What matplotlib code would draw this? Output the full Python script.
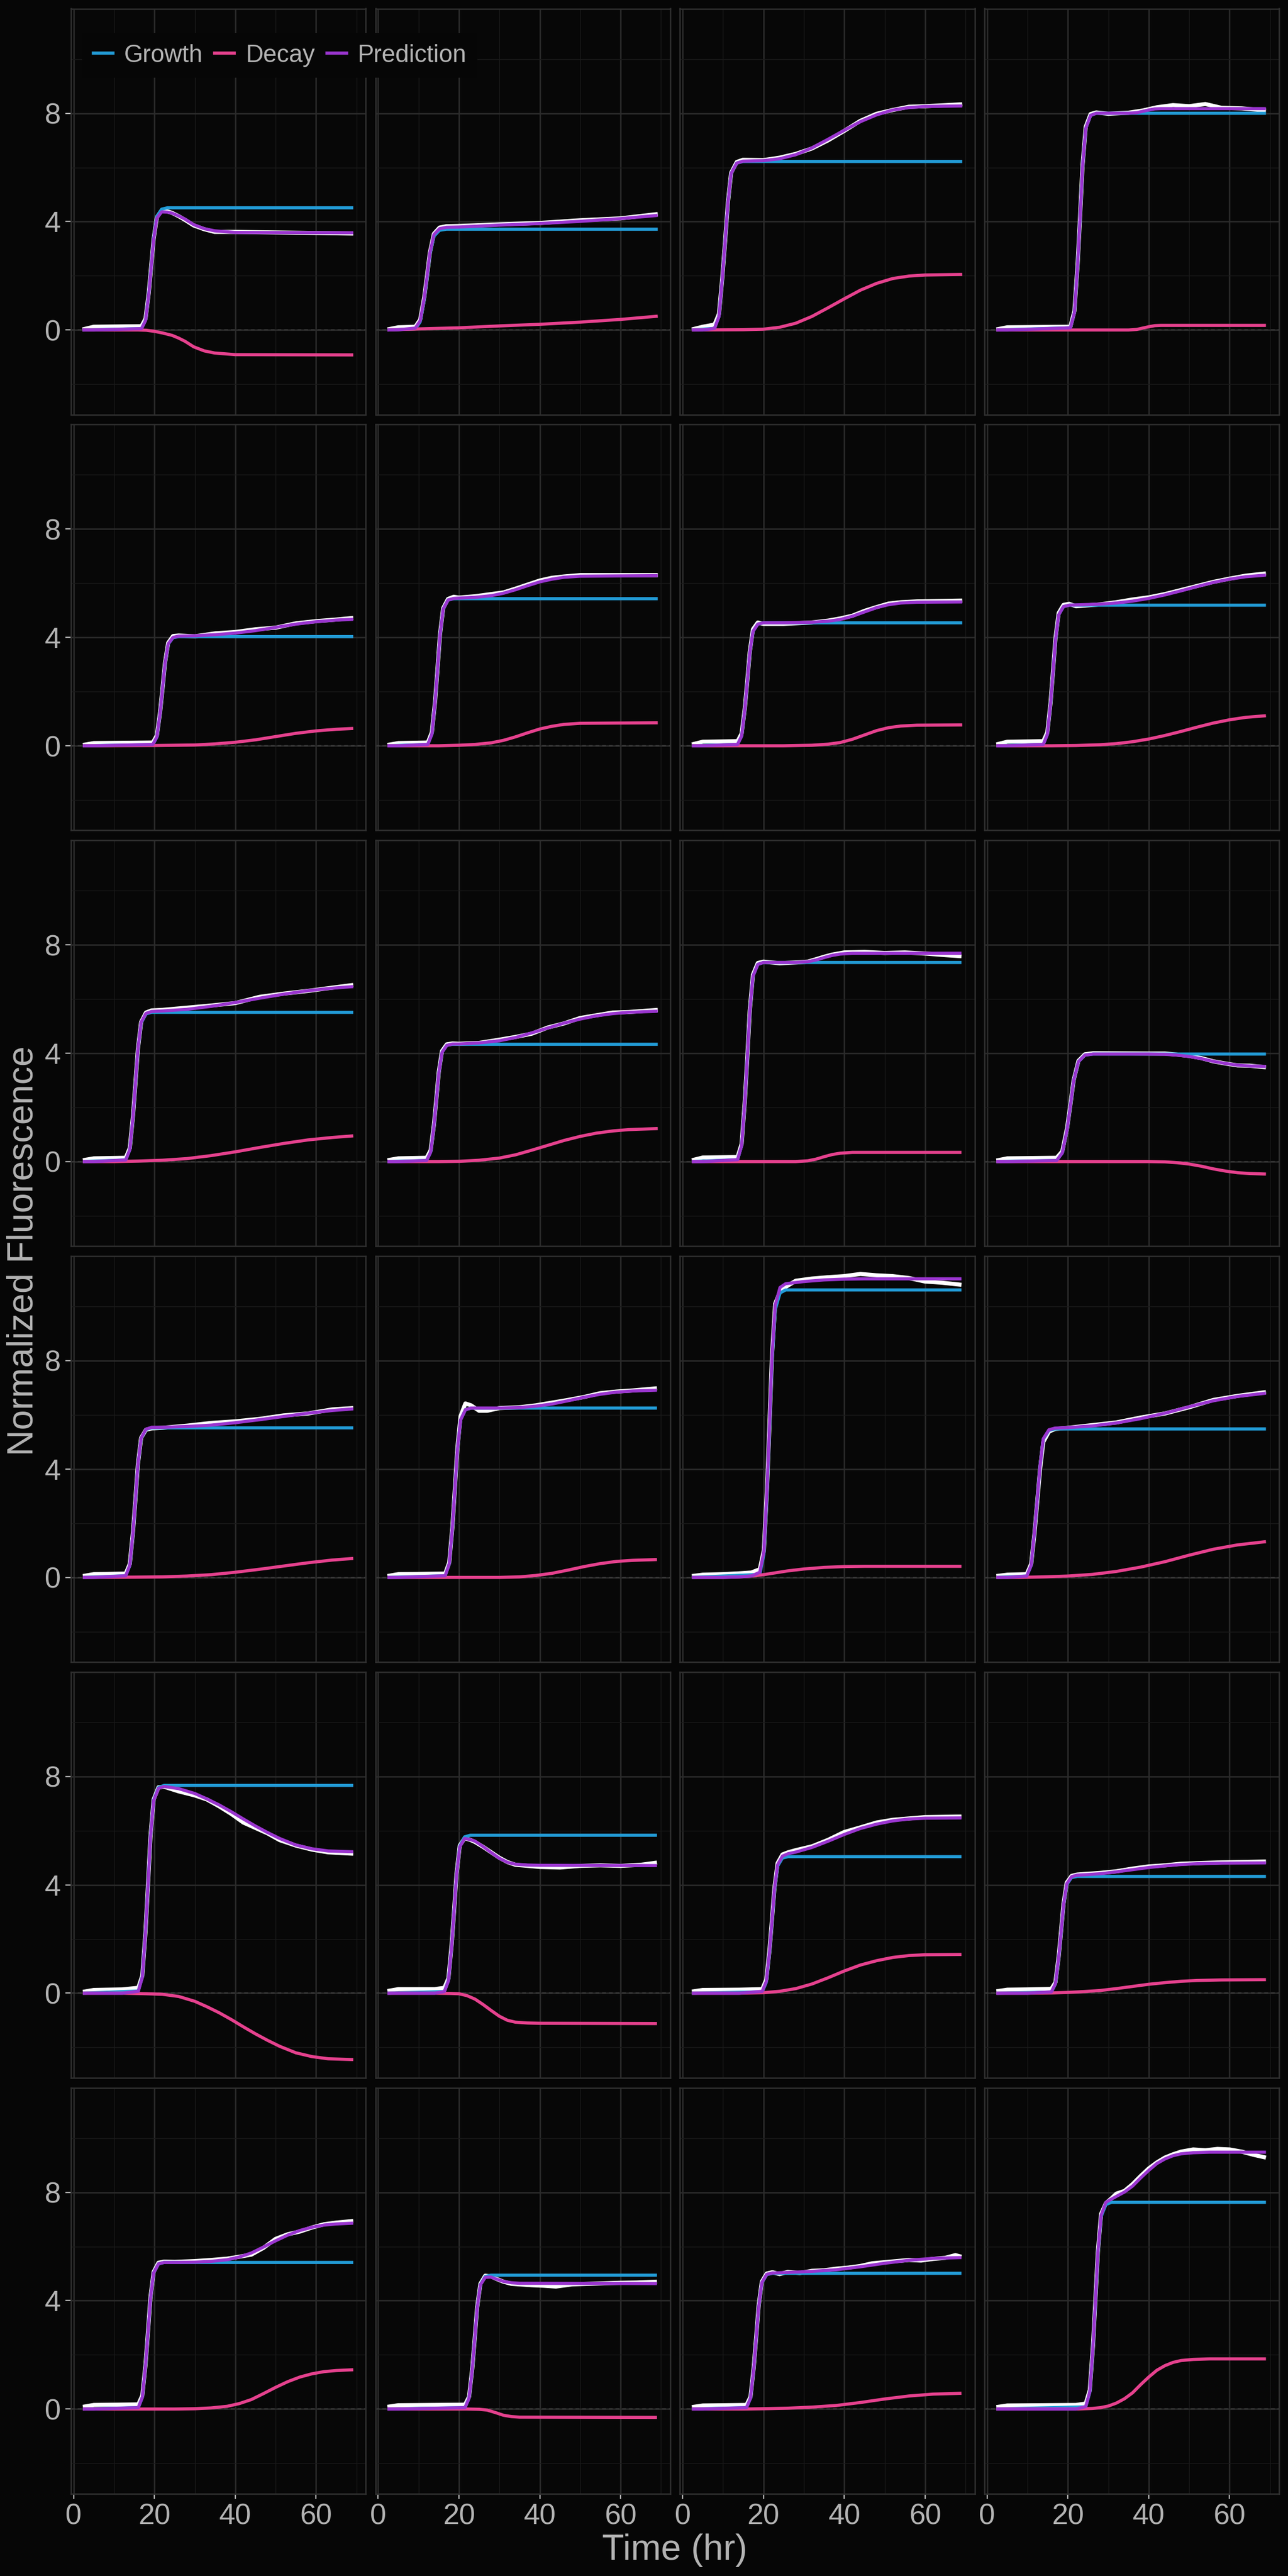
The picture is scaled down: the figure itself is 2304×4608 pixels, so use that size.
import matplotlib
matplotlib.use("Agg")
import matplotlib.pyplot as plt
from matplotlib.lines import Line2D
from matplotlib.ticker import FixedLocator

plt.rcParams['font.family'] = ['Liberation Sans', 'DejaVu Sans']

# ---------------- data ----------------
X_TICKS = [0, 20, 40, 60]
Y_TICKS = [0, 4, 8]
SERIES = ["Growth", "Decay", "Prediction"]

GROWTH_T = [
    [2.2, 16.8, 17.8, 18.6, 19.2, 19.8, 20.6, 21.8, 23.2, 69.2],
    [2.3, 9.2, 10.4, 11.4, 12.1, 12.8, 13.8, 15.2, 16.9, 69.2],
    [2.3, 7.9, 9.0, 9.8, 10.5, 11.2, 12.0, 13.4, 14.9, 69.2],
    [2.3, 20.6, 21.6, 22.4, 23.0, 23.6, 24.4, 25.6, 27.0, 69.0],
    [2.3, 19.6, 20.6, 21.4, 22.0, 22.6, 23.4, 24.6, 26.0, 69.2],
    [2.3, 12.3, 13.3, 14.1, 14.7, 15.3, 16.1, 17.3, 18.7, 69.2],
    [2.3, 13.6, 14.6, 15.4, 16.0, 16.6, 17.4, 18.6, 20.0, 69.2],
    [2.3, 13.9, 14.9, 15.7, 16.3, 16.9, 17.7, 18.9, 20.3, 69.0],
    [2.3, 12.9, 13.9, 14.7, 15.3, 15.9, 16.7, 17.9, 19.3, 69.2],
    [2.3, 12.0, 13.0, 13.8, 14.4, 15.0, 15.8, 17.0, 18.4, 69.2],
    [2.3, 13.6, 14.6, 15.4, 16.0, 16.6, 17.4, 18.6, 20.0, 69.0],
    [2.3, 17.2, 18.6, 19.8, 20.6, 21.4, 22.6, 24.2, 26.2, 69.0],
    [2.3, 12.9, 13.9, 14.7, 15.3, 15.9, 16.7, 17.9, 19.3, 69.2],
    [2.3, 16.6, 17.6, 18.4, 19.0, 19.6, 20.4, 21.6, 23.0, 69.0],
    [2.3, 19.1, 20.1, 20.9, 21.5, 22.1, 22.9, 24.1, 25.5, 69.0],
    [2.3, 9.8, 10.9, 11.7, 12.4, 13.1, 13.9, 15.3, 16.8, 69.0],
    [2.3, 16.0, 17.0, 17.8, 18.4, 19.0, 19.8, 21.0, 22.4, 69.2],
    [2.3, 16.4, 17.4, 18.2, 18.8, 19.4, 20.2, 21.4, 22.8, 69.0],
    [2.3, 19.7, 20.7, 21.5, 22.1, 22.7, 23.5, 24.7, 26.1, 69.0],
    [2.3, 15.9, 16.9, 17.7, 18.3, 18.9, 19.7, 20.9, 22.3, 69.0],
    [2.3, 16.0, 17.0, 17.8, 18.4, 19.0, 19.8, 21.0, 22.4, 69.2],
    [2.3, 21.5, 22.5, 23.3, 23.9, 24.5, 25.3, 26.5, 27.9, 69.0],
    [2.3, 15.8, 16.8, 17.6, 18.2, 18.8, 19.6, 20.8, 22.2, 69.0],
    [2.3, 24.4, 25.4, 26.2, 26.8, 27.4, 28.2, 29.4, 30.8, 69.0],
]
GROWTH_V = [
    [0, 0.05, 0.36, 1.35, 2.35, 3.38, 4.19, 4.46, 4.51, 4.51],
    [0, 0.04, 0.30, 1.12, 1.93, 2.79, 3.46, 3.68, 3.72, 3.72],
    [0, 0.06, 0.50, 1.87, 3.23, 4.67, 5.78, 6.16, 6.22, 6.22],
    [0, 0.08, 0.64, 2.40, 4.16, 6.00, 7.44, 7.92, 8.00, 8.00],
    [0, 0.04, 0.32, 1.21, 2.10, 3.02, 3.75, 3.99, 4.03, 4.03],
    [0, 0.05, 0.43, 1.63, 2.82, 4.07, 5.05, 5.38, 5.43, 5.43],
    [0, 0.05, 0.36, 1.36, 2.36, 3.41, 4.22, 4.49, 4.54, 4.54],
    [0, 0.05, 0.42, 1.56, 2.70, 3.89, 4.83, 5.14, 5.19, 5.19],
    [0, 0.06, 0.44, 1.65, 2.87, 4.13, 5.12, 5.45, 5.51, 5.51],
    [0, 0.04, 0.35, 1.30, 2.25, 3.25, 4.03, 4.29, 4.33, 4.33],
    [0, 0.07, 0.59, 2.21, 3.82, 5.51, 6.84, 7.28, 7.35, 7.35],
    [0, 0.04, 0.32, 1.19, 2.06, 2.98, 3.69, 3.93, 3.97, 3.97],
    [0, 0.06, 0.44, 1.66, 2.87, 4.14, 5.13, 5.46, 5.52, 5.52],
    [0, 0.06, 0.50, 1.88, 3.25, 4.69, 5.81, 6.19, 6.25, 6.25],
    [0, 0.11, 0.85, 3.18, 5.52, 7.96, 9.87, 10.50, 10.61, 10.61],
    [0, 0.05, 0.44, 1.64, 2.85, 4.11, 5.10, 5.43, 5.48, 5.48],
    [0, 0.08, 0.61, 2.30, 3.99, 5.75, 7.13, 7.59, 7.67, 7.67],
    [0, 0.06, 0.47, 1.75, 3.03, 4.37, 5.42, 5.77, 5.83, 5.83],
    [0, 0.05, 0.40, 1.51, 2.62, 3.78, 4.69, 4.99, 5.04, 5.04],
    [0, 0.04, 0.34, 1.29, 2.24, 3.23, 4.01, 4.27, 4.31, 4.31],
    [0, 0.05, 0.43, 1.62, 2.81, 4.06, 5.03, 5.36, 5.41, 5.41],
    [0, 0.05, 0.40, 1.48, 2.57, 3.71, 4.59, 4.89, 4.94, 4.94],
    [0, 0.05, 0.40, 1.50, 2.61, 3.76, 4.66, 4.96, 5.01, 5.01],
    [0, 0.08, 0.61, 2.29, 3.97, 5.72, 7.10, 7.55, 7.63, 7.63],
]

DECAY_T = [
    [2.2, 16, 18, 20, 22, 24.4, 26, 27.6, 29.7, 32.3, 34.9, 40, 69.2],
    [2.3, 10, 20, 30, 40, 50, 60, 69.2],
    [2.3, 15, 20, 24, 28, 32, 36, 40, 44, 48, 52, 56, 60, 69.2],
    [2.3, 35, 37, 38.5, 40, 41.5, 43, 69.0],
    [2.3, 20, 30, 35, 40, 45, 50, 55, 60, 65, 69.2],
    [2.3, 15, 20, 24, 28, 31, 34, 37, 40, 43, 46, 50, 69.2],
    [2.3, 25, 32, 36, 39, 42, 45, 48, 51, 54, 58, 69.2],
    [2.3, 16, 22, 28, 32, 36, 40, 44, 48, 52, 56, 60, 64, 69.0],
    [2.3, 10, 16, 22, 28, 34, 40, 46, 52, 58, 64, 69.2],
    [2.3, 15, 20, 25, 30, 34, 38, 42, 46, 50, 54, 58, 62, 69.2],
    [2.3, 28, 31, 33, 35, 37, 39, 42, 69.0],
    [2.3, 40, 44, 47, 50, 53, 56, 59, 62, 65, 69.0],
    [2.3, 15, 22, 28, 34, 40, 46, 52, 58, 64, 69.2],
    [2.3, 30, 35, 39, 43, 47, 51, 55, 59, 63, 69.0],
    [2.3, 10, 14, 17, 20, 23, 26, 30, 35, 40, 45, 69.0],
    [2.3, 8, 14, 20, 26, 32, 38, 44, 50, 56, 62, 69.0],
    [2.3, 12, 18, 22, 26, 30, 33, 36, 39, 42, 45, 48, 51, 55, 59, 63, 69.2],
    [2.3, 14, 18, 20, 22, 24, 26, 28, 30, 32, 34, 37, 40, 69.0],
    [2.3, 14, 20, 24, 28, 32, 36, 40, 44, 48, 52, 56, 60, 69.0],
    [2.3, 10, 16, 20, 24, 28, 32, 36, 40, 44, 48, 52, 58, 69.0],
    [2.3, 25, 30, 34, 38, 41, 44, 47, 50, 53, 56, 59, 62, 65, 69.2],
    [2.3, 22, 25, 27, 29, 31, 33, 35, 69.0],
    [2.3, 15, 20, 26, 32, 38, 44, 50, 56, 62, 69.0],
    [2.3, 22, 26, 28, 30, 32, 34, 36, 38, 40, 42, 44, 46, 48, 51, 55, 69.0],
]
DECAY_V = [
    [0, 0, -0.01, -0.05, -0.11, -0.2, -0.3, -0.42, -0.62, -0.77, -0.85, -0.91, -0.92],
    [0, 0.04, 0.08, 0.15, 0.21, 0.29, 0.39, 0.51],
    [0, 0.01, 0.03, 0.1, 0.25, 0.5, 0.82, 1.15, 1.47, 1.72, 1.9, 1.99, 2.03, 2.05],
    [0, 0, 0.02, 0.07, 0.12, 0.16, 0.17, 0.17],
    [0, 0.01, 0.03, 0.07, 0.13, 0.22, 0.34, 0.46, 0.55, 0.61, 0.64],
    [0, 0, 0.02, 0.05, 0.11, 0.2, 0.33, 0.48, 0.62, 0.72, 0.79, 0.83, 0.85],
    [0, 0, 0.02, 0.06, 0.12, 0.24, 0.4, 0.56, 0.67, 0.73, 0.76, 0.77],
    [0, 0, 0.01, 0.04, 0.08, 0.15, 0.25, 0.38, 0.53, 0.69, 0.84, 0.96, 1.05, 1.11],
    [0, 0, 0.02, 0.05, 0.11, 0.22, 0.36, 0.52, 0.67, 0.8, 0.89, 0.95],
    [0, 0, 0.01, 0.05, 0.13, 0.25, 0.42, 0.6, 0.78, 0.93, 1.05, 1.13, 1.18, 1.22],
    [0, 0, 0.03, 0.09, 0.18, 0.26, 0.31, 0.34, 0.34],
    [0, 0, -0.01, -0.04, -0.09, -0.17, -0.27, -0.35, -0.41, -0.44, -0.46],
    [0, 0.01, 0.02, 0.05, 0.1, 0.19, 0.3, 0.42, 0.54, 0.64, 0.70],
    [0, 0, 0.02, 0.07, 0.15, 0.27, 0.4, 0.51, 0.59, 0.63, 0.66],
    [0, 0, 0.02, 0.05, 0.1, 0.17, 0.24, 0.31, 0.37, 0.40, 0.41, 0.41],
    [0, 0, 0.02, 0.05, 0.11, 0.22, 0.38, 0.58, 0.82, 1.04, 1.2, 1.32],
    [0, 0, -0.02, -0.04, -0.12, -0.3, -0.5, -0.72, -0.97, -1.24, -1.5, -1.74, -1.96, -2.2, -2.34, -2.42, -2.45],
    [0, 0, -0.01, -0.02, -0.09, -0.22, -0.42, -0.64, -0.85, -1.0, -1.07, -1.1, -1.11, -1.12],
    [0, 0, 0.02, 0.07, 0.17, 0.34, 0.57, 0.82, 1.04, 1.2, 1.32, 1.39, 1.42, 1.43],
    [0, 0, 0.01, 0.03, 0.06, 0.1, 0.17, 0.25, 0.33, 0.39, 0.44, 0.47, 0.49, 0.5],
    [0, 0, 0.01, 0.04, 0.1, 0.2, 0.35, 0.57, 0.8, 1.01, 1.18, 1.3, 1.38, 1.42, 1.45],
    [0, 0, -0.01, -0.04, -0.13, -0.23, -0.28, -0.3, -0.31],
    [0, 0, 0.01, 0.03, 0.07, 0.13, 0.24, 0.37, 0.48, 0.55, 0.58],
    [0, 0, 0.02, 0.05, 0.11, 0.22, 0.38, 0.6, 0.9, 1.18, 1.43, 1.6, 1.72, 1.79, 1.83, 1.85, 1.85],
]

PRED_T = [
    [2.2, 5, 16.8, 17.8, 18.6, 19.2, 19.8, 20.6, 21.8, 23.2, 24.4, 26, 27.6, 29.7, 32.3, 34.9, 40, 69.2],
    [2.3, 5, 9.2, 10.4, 11.4, 12.1, 12.8, 13.8, 15.2, 16.9, 20, 30, 40, 50, 60, 69.2],
    [2.3, 5, 7.9, 9.0, 9.8, 10.5, 11.2, 12.0, 13.4, 14.9, 20, 24, 28, 32, 36, 40, 44, 48, 52, 56, 60, 69.2],
    [2.3, 5, 20.6, 21.6, 22.4, 23.0, 23.6, 24.4, 25.6, 27.0, 35, 37, 38.5, 40, 41.5, 43, 69.0],
    [2.3, 5, 19.6, 20.6, 21.4, 22.0, 22.6, 23.4, 24.6, 26.0, 30, 35, 40, 45, 50, 55, 60, 65, 69.2],
    [2.3, 5, 12.3, 13.3, 14.1, 14.7, 15.3, 16.1, 17.3, 18.7, 20, 24, 28, 31, 34, 37, 40, 43, 46, 50, 69.2],
    [2.3, 5, 13.6, 14.6, 15.4, 16.0, 16.6, 17.4, 18.6, 20.0, 25, 32, 36, 39, 42, 45, 48, 51, 54, 58, 69.2],
    [2.3, 5, 13.9, 14.9, 15.7, 16.3, 16.9, 17.7, 18.9, 20.3, 22, 28, 32, 36, 40, 44, 48, 52, 56, 60, 64, 69.0],
    [2.3, 5, 12.9, 13.9, 14.7, 15.3, 15.9, 16.7, 17.9, 19.3, 22, 28, 34, 40, 46, 52, 58, 64, 69.2],
    [2.3, 5, 12.0, 13.0, 13.8, 14.4, 15.0, 15.8, 17.0, 18.4, 20, 25, 30, 34, 38, 42, 46, 50, 54, 58, 62, 69.2],
    [2.3, 5, 13.6, 14.6, 15.4, 16.0, 16.6, 17.4, 18.6, 20.0, 28, 31, 33, 35, 37, 39, 42, 69.0],
    [2.3, 5, 17.2, 18.6, 19.8, 20.6, 21.4, 22.6, 24.2, 26.2, 40, 44, 47, 50, 53, 56, 59, 62, 65, 69.0],
    [2.3, 5, 12.9, 13.9, 14.7, 15.3, 15.9, 16.7, 17.9, 19.3, 22, 28, 34, 40, 46, 52, 58, 64, 69.2],
    [2.3, 5, 16.6, 17.6, 18.4, 19.0, 19.6, 20.4, 21.6, 23.0, 30, 35, 39, 43, 47, 51, 55, 59, 63, 69.0],
    [2.3, 5, 10, 14, 17, 19.1, 20.1, 20.9, 21.5, 22.1, 22.9, 24.1, 25.5, 30, 35, 40, 45, 69.0],
    [2.3, 5, 9.8, 10.9, 11.7, 12.4, 13.1, 13.9, 15.3, 16.8, 20, 26, 32, 38, 44, 50, 56, 62, 69.0],
    [2.3, 5, 12, 16.0, 17.0, 17.8, 18.4, 19.0, 19.8, 21.0, 22.4, 26, 30, 33, 36, 39, 42, 45, 48, 51, 55, 59, 63, 69.2],
    [2.3, 5, 14, 16.4, 17.4, 18.2, 18.8, 19.4, 20.2, 21.4, 22.8, 24, 26, 28, 30, 32, 34, 37, 40, 69.0],
    [2.3, 5, 14, 19.7, 20.7, 21.5, 22.1, 22.7, 23.5, 24.7, 26.1, 28, 32, 36, 40, 44, 48, 52, 56, 60, 69.0],
    [2.3, 5, 10, 15.9, 16.9, 17.7, 18.3, 18.9, 19.7, 20.9, 22.3, 24, 28, 32, 36, 40, 44, 48, 52, 58, 69.0],
    [2.3, 5, 16.0, 17.0, 17.8, 18.4, 19.0, 19.8, 21.0, 22.4, 25, 30, 34, 38, 41, 44, 47, 50, 53, 56, 59, 62, 65, 69.2],
    [2.3, 5, 21.5, 22.5, 23.3, 23.9, 24.5, 25.3, 26.5, 27.9, 29, 31, 33, 35, 69.0],
    [2.3, 5, 15.8, 16.8, 17.6, 18.2, 18.8, 19.6, 20.8, 22.2, 26, 32, 38, 44, 50, 56, 62, 69.0],
    [2.3, 5, 22, 24.4, 25.4, 26.2, 26.8, 27.4, 28.2, 29.4, 30.8, 32, 34, 36, 38, 40, 42, 44, 46, 48, 51, 55, 69.0],
]
PRED_V = [
    [0, 0, 0.05, 0.35, 1.33, 2.32, 3.34, 4.13, 4.36, 4.35, 4.31, 4.21, 4.09, 3.89, 3.74, 3.66, 3.60, 3.59],
    [0, 0.01, 0.07, 0.34, 1.17, 1.98, 2.84, 3.52, 3.74, 3.79, 3.80, 3.87, 3.93, 4.01, 4.11, 4.23],
    [0, 0, 0.06, 0.50, 1.87, 3.23, 4.67, 5.78, 6.16, 6.23, 6.25, 6.32, 6.47, 6.72, 7.04, 7.37, 7.69, 7.94, 8.12, 8.21, 8.25, 8.27],
    [0, 0, 0.08, 0.64, 2.40, 4.16, 6.00, 7.44, 7.92, 8.00, 8.00, 8.02, 8.07, 8.12, 8.16, 8.17, 8.17],
    [0, 0, 0.05, 0.33, 1.22, 2.11, 3.03, 3.76, 4.0, 4.05, 4.06, 4.10, 4.16, 4.25, 4.37, 4.49, 4.58, 4.64, 4.67],
    [0, 0, 0.05, 0.43, 1.63, 2.82, 4.07, 5.05, 5.38, 5.44, 5.45, 5.48, 5.54, 5.63, 5.76, 5.91, 6.05, 6.15, 6.22, 6.26, 6.28],
    [0, 0, 0.05, 0.36, 1.36, 2.36, 3.41, 4.22, 4.49, 4.54, 4.54, 4.56, 4.60, 4.66, 4.78, 4.94, 5.10, 5.21, 5.27, 5.30, 5.31],
    [0, 0, 0.05, 0.42, 1.56, 2.70, 3.89, 4.83, 5.14, 5.19, 5.20, 5.23, 5.27, 5.34, 5.44, 5.57, 5.72, 5.88, 6.03, 6.15, 6.24, 6.30],
    [0, 0, 0.06, 0.44, 1.66, 2.88, 4.14, 5.14, 5.47, 5.54, 5.56, 5.62, 5.73, 5.87, 6.03, 6.18, 6.31, 6.40, 6.46],
    [0, 0, 0.04, 0.35, 1.30, 2.25, 3.25, 4.03, 4.29, 4.34, 4.34, 4.38, 4.46, 4.58, 4.75, 4.93, 5.11, 5.26, 5.38, 5.46, 5.51, 5.55],
    [0, 0, 0.07, 0.59, 2.21, 3.82, 5.51, 6.84, 7.28, 7.35, 7.35, 7.38, 7.44, 7.53, 7.61, 7.66, 7.69, 7.69],
    [0, 0, 0.04, 0.32, 1.19, 2.06, 2.98, 3.69, 3.93, 3.97, 3.97, 3.96, 3.93, 3.88, 3.80, 3.70, 3.62, 3.56, 3.53, 3.51],
    [0, 0, 0.06, 0.45, 1.67, 2.88, 4.15, 5.14, 5.47, 5.54, 5.54, 5.57, 5.62, 5.71, 5.82, 5.94, 6.06, 6.16, 6.22],
    [0, 0, 0.06, 0.50, 1.88, 3.25, 4.69, 5.81, 6.19, 6.25, 6.25, 6.27, 6.32, 6.40, 6.52, 6.65, 6.76, 6.84, 6.88, 6.91],
    [0, 0, 0, 0.02, 0.05, 0.19, 0.95, 3.30, 5.65, 8.11, 10.04, 10.70, 10.84, 10.92, 10.98, 11.01, 11.02, 11.02],
    [0, 0, 0.05, 0.45, 1.65, 2.86, 4.12, 5.12, 5.45, 5.51, 5.53, 5.59, 5.70, 5.86, 6.06, 6.30, 6.52, 6.68, 6.80],
    [0, 0, 0, 0.07, 0.59, 2.28, 3.97, 5.73, 7.11, 7.56, 7.63, 7.55, 7.37, 7.17, 6.95, 6.70, 6.43, 6.17, 5.93, 5.71, 5.47, 5.33, 5.25, 5.22],
    [0, 0, 0, 0.06, 0.46, 1.74, 3.02, 4.36, 5.40, 5.71, 5.67, 5.61, 5.41, 5.19, 4.98, 4.83, 4.76, 4.73, 4.72, 4.71],
    [0, 0, 0, 0.07, 0.43, 1.54, 2.66, 3.83, 4.74, 5.06, 5.15, 5.21, 5.38, 5.61, 5.86, 6.08, 6.24, 6.36, 6.43, 6.46, 6.47],
    [0, 0, 0, 0.05, 0.35, 1.31, 2.26, 3.25, 4.04, 4.30, 4.36, 4.37, 4.41, 4.48, 4.56, 4.64, 4.70, 4.75, 4.78, 4.80, 4.81],
    [0, 0, 0.05, 0.43, 1.62, 2.81, 4.06, 5.03, 5.36, 5.41, 5.41, 5.42, 5.45, 5.51, 5.61, 5.76, 5.98, 6.21, 6.42, 6.59, 6.71, 6.79, 6.83, 6.86],
    [0, 0, 0.05, 0.40, 1.48, 2.57, 3.71, 4.58, 4.86, 4.87, 4.81, 4.71, 4.66, 4.64, 4.63],
    [0, 0, 0.05, 0.40, 1.50, 2.61, 3.76, 4.67, 4.97, 5.02, 5.04, 5.08, 5.14, 5.25, 5.38, 5.49, 5.56, 5.59],
    [0, 0, 0, 0.09, 0.63, 2.31, 4.0, 5.76, 7.15, 7.63, 7.75, 7.85, 8.01, 8.23, 8.53, 8.81, 9.06, 9.23, 9.35, 9.42, 9.46, 9.48, 9.48],
]

# observed data; None means it was read at the same times as PRED_T
DATA_T = [
    None, None, None,
    [2.3, 5, 20.6, 21.6, 22.4, 23.0, 23.6, 24.4, 25.6, 27.0, 30, 35, 38.5, 42, 46, 50, 54, 58, 63, 69.0],
    None, None, None, None, None, None,
    [2.3, 5, 13.6, 14.6, 15.4, 16.0, 16.6, 17.4, 18.6, 20.0, 24, 28, 31, 33, 35, 37, 40, 45, 50, 55, 60, 65, 69.0],
    None, None,
    [2.3, 5, 16.6, 17.6, 18.4, 19.0, 19.6, 20.4, 21.6, 23.0, 25, 27, 30, 35, 39, 43, 47, 51, 55, 59, 63, 69.0],
    [2.3, 5, 10, 14, 17, 19.1, 20.1, 20.9, 21.5, 22.1, 22.9, 24.1, 25.5, 28, 32, 36, 40, 44, 48, 52, 56, 60, 64, 69.0],
    None, None,
    [2.3, 5, 14, 16.4, 17.4, 18.2, 18.8, 19.4, 20.2, 21.4, 22.8, 24, 26, 28, 30, 32, 34, 37, 40, 45, 50, 55, 60, 65, 69.0],
    None, None, None,
    [2.3, 5, 21.5, 22.5, 23.3, 23.9, 24.5, 25.3, 26.5, 27.9, 29, 31, 33, 35, 38, 41, 44, 48, 52, 56, 60, 64, 69.0],
    [2.3, 5, 15.8, 16.8, 17.6, 18.2, 18.8, 19.6, 20.8, 22.2, 24, 26, 29, 32, 35, 38, 41, 44, 47, 50, 53, 56, 59, 62, 65, 67.5, 69.0],
    [2.3, 5, 22, 24.4, 25.4, 26.2, 26.8, 27.4, 28.2, 29.4, 30.8, 32, 34, 36, 38, 40, 42, 44, 46, 48, 51, 54, 57, 60, 63, 66, 69.0],
]
DATA_V = [
    [0.02, 0.12, 0.14, 0.42, 1.38, 2.36, 3.36, 4.16, 4.42, 4.38, 4.32, 4.2, 4.06, 3.86, 3.72, 3.62, 3.62, 3.56],
    [0.02, 0.1, 0.12, 0.38, 1.2, 2.0, 2.85, 3.55, 3.78, 3.83, 3.84, 3.90, 3.95, 4.05, 4.12, 4.28],
    [0.02, 0.12, 0.2, 0.6, 1.9, 3.25, 4.7, 5.8, 6.2, 6.28, 6.27, 6.36, 6.5, 6.7, 7.0, 7.35, 7.72, 7.98, 8.12, 8.24, 8.26, 8.33],
    [0.02, 0.1, 0.12, 0.7, 2.45, 4.2, 6.05, 7.5, 7.97, 8.03, 7.98, 8.02, 8.1, 8.22, 8.3, 8.26, 8.34, 8.2, 8.18, 8.1],
    [0.03, 0.1, 0.12, 0.38, 1.25, 2.12, 3.05, 3.8, 4.05, 4.07, 4.04, 4.15, 4.2, 4.3, 4.36, 4.52, 4.6, 4.66, 4.72],
    [0.03, 0.1, 0.12, 0.5, 1.65, 2.85, 4.1, 5.08, 5.42, 5.5, 5.47, 5.52, 5.6, 5.66, 5.8, 5.95, 6.1, 6.2, 6.25, 6.3, 6.3],
    [0.05, 0.15, 0.17, 0.45, 1.4, 2.4, 3.45, 4.3, 4.55, 4.5, 4.5, 4.55, 4.62, 4.7, 4.8, 4.98, 5.12, 5.25, 5.3, 5.33, 5.36],
    [0.05, 0.15, 0.17, 0.5, 1.6, 2.75, 3.95, 4.9, 5.2, 5.24, 5.15, 5.22, 5.3, 5.4, 5.48, 5.6, 5.75, 5.9, 6.05, 6.17, 6.28, 6.36],
    [0.05, 0.12, 0.14, 0.5, 1.7, 2.9, 4.15, 5.15, 5.5, 5.58, 5.6, 5.68, 5.76, 5.85, 6.08, 6.2, 6.3, 6.42, 6.52],
    [0.05, 0.12, 0.14, 0.42, 1.35, 2.3, 3.3, 4.08, 4.33, 4.36, 4.35, 4.38, 4.5, 4.6, 4.72, 4.95, 5.1, 5.3, 5.4, 5.5, 5.52, 5.6],
    [0.05, 0.15, 0.17, 0.65, 2.25, 3.85, 5.55, 6.9, 7.33, 7.38, 7.32, 7.35, 7.38, 7.47, 7.56, 7.64, 7.72, 7.74, 7.7, 7.72, 7.68, 7.62, 7.58],
    [0.04, 0.12, 0.14, 0.38, 1.25, 2.1, 3.0, 3.72, 3.96, 4.0, 3.99, 3.99, 3.95, 3.9, 3.82, 3.7, 3.62, 3.55, 3.54, 3.48],
    [0.05, 0.12, 0.14, 0.5, 1.7, 2.9, 4.17, 5.15, 5.45, 5.5, 5.52, 5.6, 5.7, 5.76, 5.85, 5.98, 6.05, 6.2, 6.25],
    [0.05, 0.12, 0.14, 0.55, 1.9, 3.3, 4.75, 5.95, 6.42, 6.35, 6.15, 6.15, 6.25, 6.28, 6.35, 6.45, 6.55, 6.66, 6.8, 6.86, 6.9, 6.98],
    [0.05, 0.1, 0.12, 0.15, 0.18, 0.3, 1.0, 3.35, 5.7, 8.15, 10.1, 10.55, 10.72, 10.95, 11.03, 11.08, 11.12, 11.2, 11.15, 11.12, 11.05, 10.92, 10.88, 10.8],
    [0.05, 0.1, 0.12, 0.5, 1.6, 2.8, 4.0, 5.0, 5.38, 5.48, 5.52, 5.62, 5.72, 5.9, 6.05, 6.28, 6.55, 6.7, 6.84],
    [0.05, 0.12, 0.14, 0.2, 0.65, 2.3, 4.0, 5.75, 7.15, 7.6, 7.62, 7.45, 7.3, 7.15, 6.9, 6.62, 6.3, 6.1, 5.9, 5.65, 5.45, 5.3, 5.2, 5.15],
    [0.08, 0.15, 0.15, 0.2, 0.55, 1.8, 3.05, 4.4, 5.45, 5.72, 5.66, 5.58, 5.4, 5.2, 5.0, 4.84, 4.74, 4.7, 4.66, 4.64, 4.7, 4.72, 4.7, 4.74, 4.82],
    [0.06, 0.12, 0.13, 0.15, 0.5, 1.6, 2.7, 3.86, 4.8, 5.12, 5.2, 5.28, 5.42, 5.66, 5.95, 6.12, 6.3, 6.4, 6.45, 6.5, 6.52],
    [0.07, 0.13, 0.14, 0.16, 0.4, 1.35, 2.3, 3.3, 4.08, 4.33, 4.38, 4.4, 4.44, 4.5, 4.6, 4.68, 4.72, 4.78, 4.8, 4.83, 4.86],
    [0.08, 0.15, 0.17, 0.5, 1.65, 2.85, 4.1, 5.06, 5.4, 5.44, 5.43, 5.46, 5.5, 5.55, 5.62, 5.7, 5.95, 6.28, 6.45, 6.55, 6.7, 6.82, 6.88, 6.94],
    [0.08, 0.14, 0.16, 0.45, 1.5, 2.6, 3.75, 4.62, 4.92, 4.9, 4.82, 4.7, 4.62, 4.6, 4.57, 4.55, 4.52, 4.6, 4.62, 4.64, 4.66, 4.67, 4.7],
    [0.07, 0.13, 0.15, 0.45, 1.55, 2.65, 3.8, 4.7, 5.0, 5.05, 4.98, 5.06, 5.02, 5.1, 5.12, 5.18, 5.22, 5.28, 5.38, 5.42, 5.46, 5.5, 5.48, 5.54, 5.58, 5.68, 5.62],
    [0.07, 0.13, 0.15, 0.2, 0.7, 2.35, 4.05, 5.8, 7.2, 7.6, 7.78, 7.95, 8.05, 8.3, 8.6, 8.88, 9.1, 9.28, 9.4, 9.5, 9.58, 9.55, 9.6, 9.58, 9.5, 9.38, 9.28],
]

# ---------------- style ----------------
BG = "#060606"
PANEL = "#070707"
MAJOR = "#2b2b2b"
MINOR = "#1a1a1a"
BORDER = "#2f2f2f"
TXT = "#b3b3b3"
C_GROWTH = "#229bd6"
C_DECAY = "#e6418e"
C_PRED = "#9a35cf"
C_DATA = "#ffffff"

W, H = 2304, 4608
fig = plt.figure(figsize=(W / 300, H / 300), dpi=300)
fig.patch.set_facecolor(BG)

NROW, NCOL = 6, 4
PX_LEFT, PX_TOP = 127.0, 15.5
PX_W, PX_H = 527.3, 726.0
PITCH_X, PITCH_Y = 544.7, 743.8

LW = 1.35
for i in range(NROW * NCOL):
    r, c = divmod(i, NCOL)
    left = PX_LEFT + c * PITCH_X
    top = PX_TOP + r * PITCH_Y
    ax = fig.add_axes([left / W, 1 - (top + PX_H) / H, PX_W / W, PX_H / H])
    ax.set_facecolor(PANEL)
    ax.set_xlim(-0.65, 72.3)
    ax.set_ylim(-3.12, 11.86)
    ax.xaxis.set_major_locator(FixedLocator(X_TICKS))
    ax.xaxis.set_minor_locator(FixedLocator([10, 30, 50, 70]))
    ax.yaxis.set_major_locator(FixedLocator(Y_TICKS))
    ax.yaxis.set_minor_locator(FixedLocator([-2, 2, 6, 10]))
    ax.set_axisbelow(True)
    ax.grid(which='major', color=MAJOR, lw=0.62)
    ax.grid(which='minor', color=MINOR, lw=0.32)
    for s in ax.spines.values():
        s.set_color(BORDER)
        s.set_linewidth(0.62)
    ax.tick_params(which='minor', length=0)
    ax.tick_params(which='major', colors=TXT, width=0.55, labelsize=12.5)
    ax.tick_params(axis='y', length=2.4 if c == 0 else 0, pad=1.9, labelleft=(c == 0))
    ax.tick_params(axis='x', length=2.1 if r == NROW - 1 else 0, pad=2.0,
                   labelbottom=(r == NROW - 1))
    ax.axhline(0, color="#393939", lw=0.55, ls=(0, (3, 2.2)), zorder=1)

    dt = DATA_T[i] if DATA_T[i] is not None else PRED_T[i]
    ax.plot(dt, DATA_V[i], color=C_DATA, lw=1.75, zorder=2, solid_capstyle='butt',
            solid_joinstyle='round')
    ax.plot(GROWTH_T[i], GROWTH_V[i], color=C_GROWTH, lw=LW, zorder=3,
            solid_capstyle='butt')
    ax.plot(DECAY_T[i], DECAY_V[i], color=C_DECAY, lw=LW, zorder=4,
            solid_capstyle='butt')
    ax.plot(PRED_T[i], PRED_V[i], color=C_PRED, lw=LW, zorder=5,
            solid_capstyle='butt')

handles = [Line2D([], [], color=col, lw=LW) for col in (C_GROWTH, C_DECAY, C_PRED)]
leg = fig.legend(handles, SERIES, loc='upper left', bbox_to_anchor=(147 / W, 1 - 59 / H),
                 ncol=3, frameon=True, fancybox=False, facecolor=BG, edgecolor='none',
                 framealpha=1, fontsize=10.5, labelcolor=TXT, handlelength=0.8,
                 handletextpad=0.45, columnspacing=0.5, borderpad=0.45,
                 borderaxespad=0)

fig.text(1207 / W, 1 - 4579 / H, "Time (hr)", ha='center', va='baseline',
         fontsize=15.5, color=TXT)
fig.text(42 / W, 1 - 2238 / H, "Normalized Fluorescence", ha='center', va='center',
         rotation=90, fontsize=15.5, color=TXT)

fig.savefig("out.png", dpi=300, facecolor=BG)
